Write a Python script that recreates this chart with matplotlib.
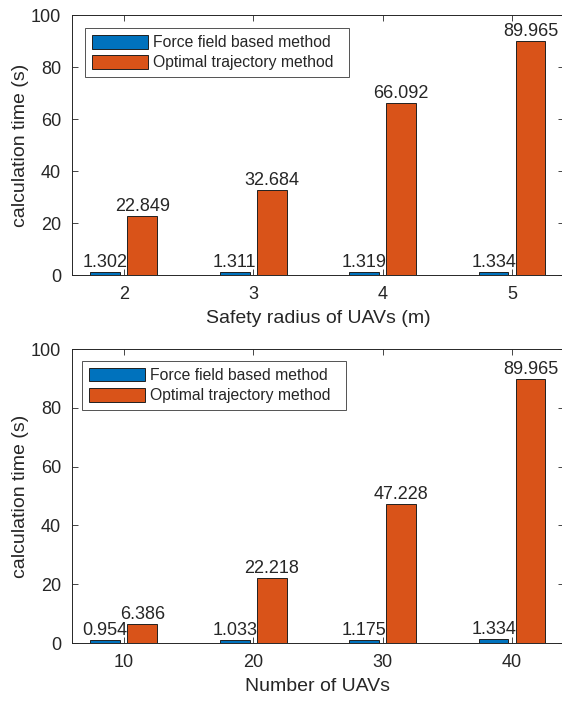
import numpy as np
import matplotlib
matplotlib.use("Agg")
import matplotlib.pyplot as plt

# data
radius_labels = ['2', '3', '4', '5']
radius_force = [1.302, 1.311, 1.319, 1.334]
radius_optimal = [22.849, 32.684, 66.092, 89.965]

uav_labels = ['10', '20', '30', '40']
uav_force = [0.954, 1.033, 1.175, 1.334]
uav_optimal = [6.386, 22.218, 47.228, 89.965]

series_names = ['Force field based method', 'Optimal trajectory method']
blue = '#0072BD'
orange = '#D95319'
dark = '#262626'

plt.rcParams['font.family'] = ['Liberation Sans', 'DejaVu Sans']


def grouped_bars(ax, labels, force, optimal, xlabel, legend_bbox):
    x = np.arange(1, len(labels) + 1)
    w = 0.2286
    off = 0.143
    b1 = ax.bar(x - off, force, w, color=blue, edgecolor='#202020', linewidth=0.7,
                label=series_names[0] + '  ')
    b2 = ax.bar(x + off, optimal, w, color=orange, edgecolor='#202020', linewidth=0.7,
                label=series_names[1] + '  ')
    for bars, vals in ((b1, force), (b2, optimal)):
        for rect, v in zip(bars, vals):
            ax.text(rect.get_x() + rect.get_width() / 2, v + 0.3, f'{v:.3f}',
                    ha='center', va='bottom', fontsize=13, color=dark)
    ax.set_xlim(0.6, 4.4)
    ax.set_ylim(0, 100)
    ax.set_xticks(x)
    ax.set_xticklabels(labels)
    ax.set_yticks([0, 20, 40, 60, 80, 100])
    ax.tick_params(direction='in', length=4, width=0.6, colors=dark,
                   labelsize=13, top=True, right=True, pad=8)
    for s in ax.spines.values():
        s.set_color(dark)
        s.set_linewidth(0.7)
    ax.set_xlabel(xlabel, fontsize=14, color=dark, labelpad=5)
    ax.set_ylabel('calculation time (s)', fontsize=14, color=dark, labelpad=1)
    leg = ax.legend(loc='upper left', bbox_to_anchor=legend_bbox, fontsize=11.3,
                    frameon=True, fancybox=False, edgecolor='#262626',
                    handlelength=3.55, handleheight=0.95, handletextpad=0.3,
                    borderpad=0.45, labelspacing=0.32, borderaxespad=0)
    leg.get_frame().set_linewidth(0.7)
    for t in leg.get_texts():
        t.set_color(dark)


fig = plt.figure(figsize=(5.62, 7.05), dpi=100)
ax1 = fig.add_axes([0.1281, 0.6099, 0.8754, 0.3688])
ax2 = fig.add_axes([0.1281, 0.0879, 0.8754, 0.4170])

grouped_bars(ax1, radius_labels, radius_force, radius_optimal,
             'Safety radius of UAVs (m)', (0.027, 0.95))
grouped_bars(ax2, uav_labels, uav_force, uav_optimal,
             'Number of UAVs', (0.021, 0.96))

fig.savefig('out.png', dpi=100)
